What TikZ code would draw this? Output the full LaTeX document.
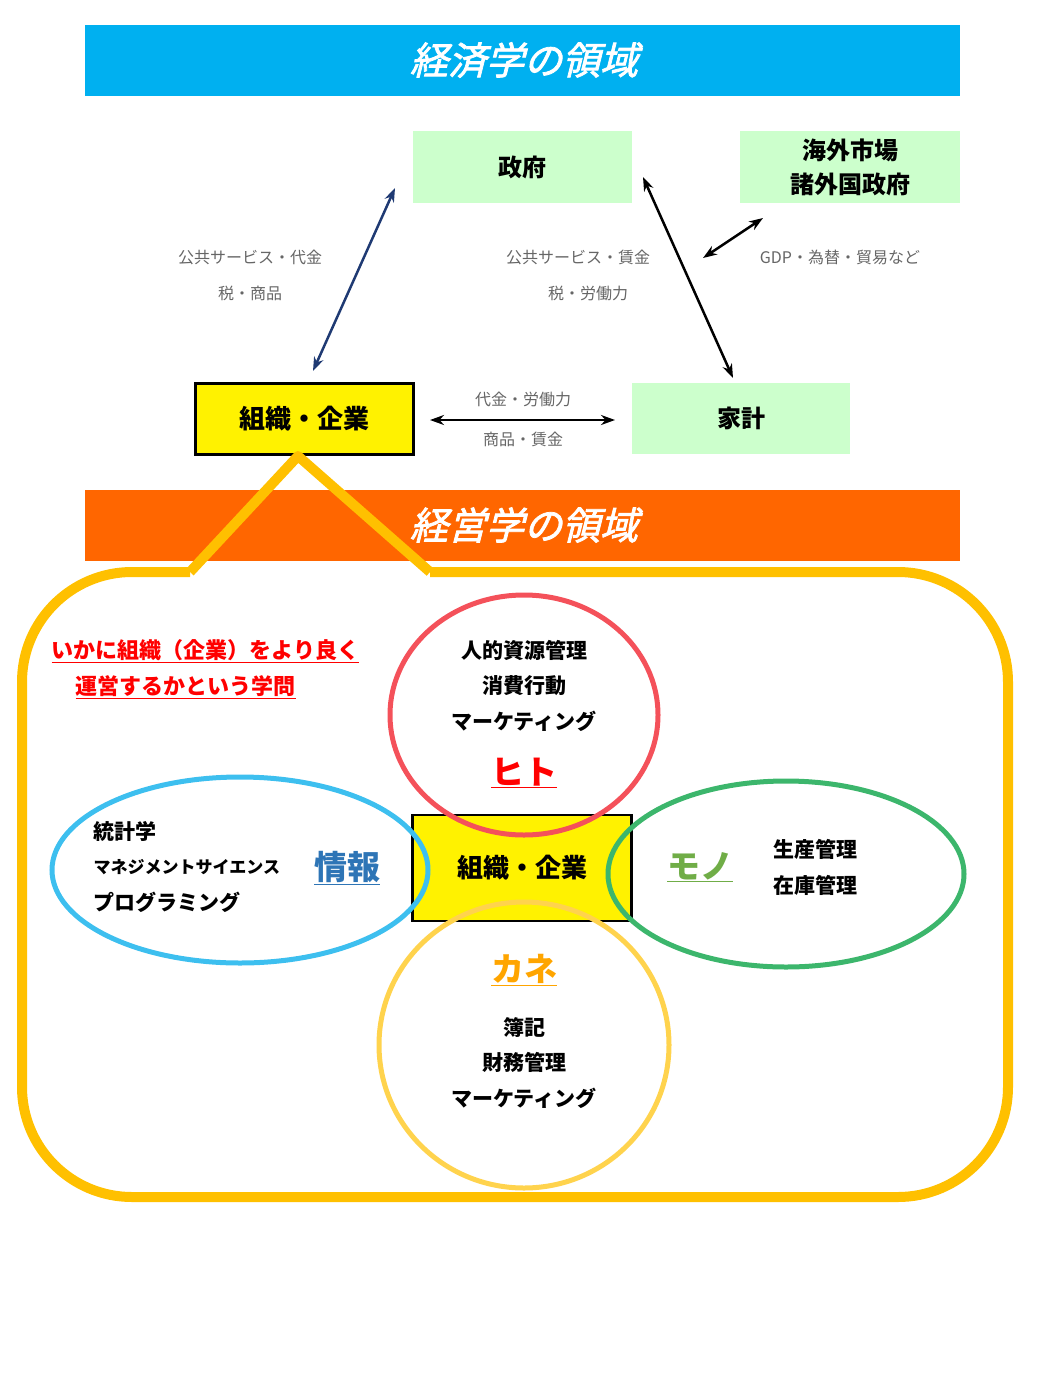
\documentclass[tikz,border=0pt]{standalone}
\usepackage{fontspec}
\setmainfont{Noto Sans CJK JP}
\newfontfamily\cjkslant{Noto Sans CJK JP}[FakeSlant=0.25,FakeBold=2]
\usetikzlibrary{arrows.meta}
\definecolor{bannerblue}{HTML}{00B0F0}
\definecolor{bannerorange}{HTML}{FF6600}
\definecolor{lgreen}{HTML}{CCFFCC}
\definecolor{callout}{HTML}{FFC000}
\definecolor{cred}{HTML}{F4515A}
\definecolor{cblue}{HTML}{3DBFEF}
\definecolor{cgreen}{HTML}{3CB66C}
\definecolor{cyel}{HTML}{FFD34D}
\definecolor{infob}{HTML}{2E75B6}
\definecolor{monog}{HTML}{70AD47}
\definecolor{kaneo}{HTML}{FFA500}
\definecolor{navy}{HTML}{1F3A73}
\begin{document}
\begin{tikzpicture}[x=1pt,y=-1pt,
  gbox/.style={fill=lgreen,draw=none,font=\fontsize{24}{30}\selectfont\bfseries},
  ybox/.style={fill=yellow,draw=black,line width=3pt,font=\fontsize{26}{30}\selectfont\bfseries},
  lab/.style={text=gray!80!black,font=\fontsize{16}{20}\selectfont},
  body/.style={font=\fontsize{21}{26}\selectfont\bfseries},
  big/.style={font=\fontsize{33}{38}\selectfont\bfseries},
  arr/.style={{Stealth[length=14pt,width=10pt]}-{Stealth[length=14pt,width=10pt]},line width=2.5pt},
  banner/.style={text=white,font=\fontsize{38}{44}\cjkslant}]
\useasboundingbox (0,0) rectangle (1039,1386);
% top banner
\fill[bannerblue] (85,25) rectangle (960,96);
\node[banner] (t1) at (524,60) {経済学の領域};
% boxes
\node[gbox,minimum width=219pt,minimum height=71pt] (gov) at (522,167) {政府};
\node[gbox,minimum width=220pt,minimum height=71pt,align=center,font=\fontsize{24}{34}\selectfont\bfseries] (for) at (850,167) {海外市場\\諸外国政府};
\node[ybox,minimum width=218pt,minimum height=71pt] (firm) at (304,419) {組織・企業};
\node[gbox,minimum width=218pt,minimum height=71pt] (hh) at (741,418) {家計};
\coordinate (a1) at (395,188); \coordinate (a2) at (313,371);
\coordinate (b1) at (643,177); \coordinate (b2) at (733,378);
\coordinate (c1) at (763,218); \coordinate (c2) at (703,258);
\coordinate (d1) at (430,420); \coordinate (d2) at (615,420);
\draw[arr,navy] (a1) -- (a2);
\draw[arr] (b1) -- (b2);
\draw[arr] (c1) -- (c2);
\draw[arr] (d1) -- (d2);
\node[lab] (l1) at (250,257) {公共サービス・代金};
\node[lab] (l2) at (250,293) {税・商品};
\node[lab] (l3) at (578,257) {公共サービス・賃金};
\node[lab] (l4) at (588,293) {税・労働力};
\node[lab] (l5) at (840,257) {GDP・為替・貿易など};
\node[lab] (l6) at (523,399) {代金・労働力};
\node[lab] (l7) at (523,439) {商品・賃金};
% second banner
\fill[bannerorange] (85,490) rectangle (960,561);
\draw[callout,line width=10pt,line join=round] (190,572) -- (298,456) -- (430,572);
\draw[callout,line width=10pt,rounded corners=110pt] (190,572) -- (22,572) -- (22,1197) -- (1008,1197) -- (1008,572) -- (430,572);
\node[banner] (t2) at (524,525) {経営学の領域};
% red text
\node[anchor=west,text=red,font=\fontsize{22}{26}\selectfont\bfseries] (q1) at (48,651) {\underline{いかに組織（企業）をより良く}};
\node[anchor=west,text=red,font=\fontsize{22}{26}\selectfont\bfseries] (q2) at (72,687) {\underline{運営するかという学問}};
% center box
\node[ybox,line width=2.5pt,minimum width=219pt,minimum height=106pt] (core) at (522,868) {組織・企業};
% circles
\draw[cred,line width=5pt] (524,715) ellipse [x radius=134pt,y radius=120pt];
\draw[cblue,line width=5pt] (240,870) ellipse [x radius=188pt,y radius=93pt];
\draw[cgreen,line width=5pt] (786,874) ellipse [x radius=178pt,y radius=93pt];
\draw[cyel,line width=5pt] (524,1045) ellipse [x radius=145pt,y radius=143pt];
% texts
\node[body] (h1) at (524,650) {人的資源管理};
\node[body] (h2) at (524,686) {消費行動};
\node[body] (h3) at (524,721) {マーケティング};
\node[big,text=red] (hito) at (524,773) {\underline{ヒト}};
\node[body,anchor=west] (i1) at (90,831) {統計学};
\node[body,anchor=west,font=\fontsize{17}{20}\selectfont\bfseries] (i2) at (90,867) {マネジメントサイエンス};
\node[body,anchor=west] (i3) at (90,902) {プログラミング};
\node[big,text=infob] (joho) at (347,868) {\underline{情報}};
\node[big,text=monog] (mono) at (700,867) {\underline{モノ}};
\node[body] (m1) at (815,849) {生産管理};
\node[body] (m2) at (815,885) {在庫管理};
\node[big,text=kaneo] (kane) at (524,970) {\underline{カネ}};
\node[body] (k1) at (524,1027) {簿記};
\node[body] (k2) at (524,1062) {財務管理};
\node[body] (k3) at (524,1098) {マーケティング};
\end{tikzpicture}
\end{document}
